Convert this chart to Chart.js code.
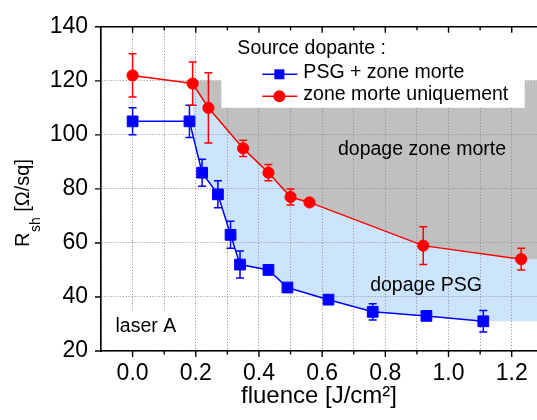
<!DOCTYPE html>
<html>
<head>
<meta charset="utf-8">
<script src="https://cdn.jsdelivr.net/npm/chart.js@4.4.1/dist/chart.umd.min.js"></script>
<style>
  html, body { margin: 0; padding: 0; background: #fff; }
  #wrap { width: 537px; height: 420px; }
</style>
</head>
<body>
<div id="wrap"><canvas id="chart" width="537" height="420"></canvas></div>
<script>
// Sheet resistance vs laser fluence

// PSG + zone morte (blue squares)
const psgFluence = [0.00, 0.18, 0.22, 0.27, 0.31, 0.34, 0.43, 0.49, 0.62, 0.76, 0.93, 1.11];
const psgRsh     = [105, 105, 86, 78, 63, 52, 50, 43.5, 39, 34.5, 33, 31];
const psgErr     = [5, 6, 5, 5, 5, 5, 1.5, 1, 1, 3, 1, 4];

// zone morte uniquement (red circles)
const zmFluence = [0.00, 0.19, 0.24, 0.35, 0.43, 0.50, 0.56, 0.92, 1.23];
const zmRsh     = [122, 119, 110, 95, 86, 77, 75, 59, 54];
const zmErr     = [8, 8, 13, 3, 3, 3, 1, 7, 4];

// shaded regions: grey above the red curve up to 120, blue between the curves
const deadZoneTop = 120;
const fillStartX = 0.2;

const xMin = -0.1, xMax = 1.28;
const yMin = 20, yMax = 140;

const FONT = "'Liberation Sans', Arial, sans-serif";

const pts = (xs, ys) => xs.map((x, i) => ({ x: x, y: ys[i] }));
// boundaries start at the second measurement and run flat to the right edge
const zmEdge = pts(zmFluence, zmRsh).slice(1).concat([{ x: xMax, y: zmRsh[zmRsh.length - 1] }]);
const psgEdge = pts(psgFluence, psgRsh).slice(1).concat([{ x: xMax, y: psgRsh[psgRsh.length - 1] }]);

function drawErrors(chart, dsIndex, errors, color) {
    const meta = chart.getDatasetMeta(dsIndex);
    const ys = chart.scales.y;
    const ctx = chart.ctx;
    const data = chart.data.datasets[dsIndex].data;
    ctx.save();
    ctx.strokeStyle = color;
    ctx.lineWidth = 1.5;
    meta.data.forEach((pt, i) => {
        const top = ys.getPixelForValue(data[i].y + errors[i]);
        const bot = ys.getPixelForValue(data[i].y - errors[i]);
        ctx.beginPath();
        ctx.moveTo(pt.x, top); ctx.lineTo(pt.x, bot);
        ctx.moveTo(pt.x - 4, top); ctx.lineTo(pt.x + 4, top);
        ctx.moveTo(pt.x - 4, bot); ctx.lineTo(pt.x + 4, bot);
        ctx.stroke();
    });
    ctx.restore();
}

const decorations = {
    id: 'decorations',
    beforeDatasetsDraw(chart) {
        drawErrors(chart, 0, psgErr, '#0000ff');
        drawErrors(chart, 1, zmErr, '#ff0000');
    },
    afterDatasetsDraw(chart) {
        const { ctx, chartArea, scales: { x, y } } = chart;
        ctx.save();

        // legend box
        const bx0 = x.getPixelForValue(0.281), bx1 = x.getPixelForValue(1.241);
        const by1 = y.getPixelForValue(110);
        ctx.fillStyle = '#fff';
        ctx.fillRect(bx0, chartArea.top + 1, bx1 - bx0, by1 - chartArea.top - 1);

        ctx.font = '19.5px ' + FONT;
        ctx.fillStyle = '#000';
        ctx.textBaseline = 'alphabetic';
        ctx.textAlign = 'left';
        ctx.fillText('Source dopante :', bx0 + 16, chartArea.top + 27.5);

        const rows = [
            { label: 'PSG + zone morte', color: '#0000ff', style: 'rect', dy: 47.5 },
            { label: 'zone morte uniquement', color: '#ff0000', style: 'circle', dy: 69.5 }
        ];
        rows.forEach(r => {
            const ry = chartArea.top + r.dy;
            ctx.strokeStyle = r.color;
            ctx.lineWidth = 1.5;
            ctx.beginPath();
            ctx.moveTo(bx0 + 41, ry); ctx.lineTo(bx0 + 76, ry);
            ctx.stroke();
            ctx.fillStyle = r.color;
            if (r.style === 'rect') {
                ctx.fillRect(bx0 + 58 - 5, ry - 5, 10, 10);
            } else {
                ctx.beginPath();
                ctx.arc(bx0 + 58, ry, 6, 0, Math.PI * 2);
                ctx.fill();
            }
            ctx.fillStyle = '#000';
            ctx.fillText(r.label, bx0 + 82, ry + 3.5);
        });

        // region labels
        ctx.font = '19.5px ' + FONT;
        ctx.fillText('dopage zone morte', x.getPixelForValue(0.65), y.getPixelForValue(92.6));
        ctx.fillText('dopage PSG', x.getPixelForValue(0.752), y.getPixelForValue(42.2));

        // laser A with white backing
        const lx1 = x.getPixelForValue(0.167), ly0 = y.getPixelForValue(35.2);
        ctx.fillStyle = '#fff';
        ctx.fillRect(chartArea.left + 1, ly0, lx1 - chartArea.left - 1, chartArea.bottom - ly0 - 1);
        ctx.fillStyle = '#000';
        ctx.fillText('laser A', x.getPixelForValue(-0.054), y.getPixelForValue(27.2));
        ctx.restore();
    },
    afterDraw(chart) {
        const { ctx, chartArea, scales: { x, y } } = chart;
        ctx.save();
        ctx.strokeStyle = '#000';
        ctx.lineWidth = 1.6;
        // top frame line
        ctx.beginPath();
        ctx.moveTo(chartArea.left - 0.8, chartArea.top);
        ctx.lineTo(chartArea.right, chartArea.top);
        ctx.stroke();

        ctx.lineWidth = 1.4;
        ctx.beginPath();
        x.ticks.forEach(t => {
            if (t.value <= xMin + 1e-6) return;
            const px = x.getPixelForValue(t.value);
            const len = Math.round(t.value * 10) % 2 === 0 ? 6 : 3.5;
            ctx.moveTo(px, chartArea.bottom); ctx.lineTo(px, chartArea.bottom + len);
            ctx.moveTo(px, chartArea.top); ctx.lineTo(px, chartArea.top + len);
        });
        y.ticks.forEach(t => {
            const py = y.getPixelForValue(t.value);
            const len = t.value % 20 === 0 ? 6 : 3.5;
            ctx.moveTo(chartArea.left, py); ctx.lineTo(chartArea.left - len, py);
        });
        ctx.stroke();

        // y axis title with subscript
        ctx.translate(29, 247);
        ctx.rotate(-Math.PI / 2);
        ctx.fillStyle = '#000';
        ctx.textAlign = 'left';
        ctx.textBaseline = 'alphabetic';
        ctx.font = '20px ' + FONT;
        ctx.fillText('R', 0, 0);
        let u = ctx.measureText('R').width;
        ctx.font = '14px ' + FONT;
        ctx.fillText('sh', u + 0.5, 11);
        u += ctx.measureText('sh').width + 0.5;
        ctx.font = '20px ' + FONT;
        ctx.fillText(' [\u03A9/sq]', u, 0);
        ctx.restore();
    }
};

new Chart(document.getElementById('chart'), {
    type: 'line',
    data: {
        datasets: [
            {
                label: 'PSG + zone morte',
                data: pts(psgFluence, psgRsh),
                borderColor: '#0000ff',
                backgroundColor: '#0000ff',
                borderWidth: 1.5,
                pointStyle: 'rect',
                pointRadius: 7.6,
                pointBorderWidth: 1,
                fill: false
            },
            {
                label: 'zone morte uniquement',
                data: pts(zmFluence, zmRsh),
                borderColor: '#ff0000',
                backgroundColor: '#ff0000',
                borderWidth: 1.5,
                pointStyle: 'circle',
                pointRadius: 5.6,
                pointBorderWidth: 1,
                fill: false
            },
            {
                label: 'dopage zone morte',
                data: [{ x: fillStartX, y: deadZoneTop }, { x: xMax, y: deadZoneTop }],
                borderColor: 'transparent',
                backgroundColor: '#c0c0c0',
                pointRadius: 0,
                fill: '+1'
            },
            {
                label: 'zm edge',
                data: zmEdge,
                borderColor: 'transparent',
                backgroundColor: '#cce5fc',
                pointRadius: 0,
                fill: '+1'
            },
            {
                label: 'psg edge',
                data: psgEdge,
                borderColor: 'transparent',
                pointRadius: 0,
                fill: false
            }
        ]
    },
    options: {
        responsive: false,
        animation: false,
        events: [],
        layout: { autoPadding: false, padding: { top: 25, right: 0, left: 0, bottom: 0 } },
        plugins: {
            legend: { display: false },
            tooltip: { enabled: false },
            filler: { propagate: false, drawTime: 'beforeDraw' }
        },
        scales: {
            x: {
                type: 'linear',
                min: xMin,
                max: xMax,
                afterFit(s) { s.height = 69; },
                ticks: {
                    stepSize: 0.1,
                    includeBounds: false,
                    autoSkip: false,
                    maxRotation: 0,
                    padding: 9,
                    color: '#000',
                    font: { family: FONT, size: 23 },
                    callback: v => (Math.round(v * 10) % 2 === 0 ? v.toFixed(1) : '')
                },
                grid: { color: '#8c8c8c', lineWidth: 1, drawTicks: false },
                border: { display: true, color: '#000', width: 1.6, dash: [1, 2] },
                title: {
                    display: true,
                    text: 'fluence [J/cm\u00B2]',
                    color: '#000',
                    font: { family: FONT, size: 24 },
                    padding: { top: 0, bottom: 9 }
                }
            },
            y: {
                min: yMin,
                max: yMax,
                afterFit(s) { s.width = 101; },
                ticks: {
                    stepSize: 10,
                    padding: 13,
                    color: '#000',
                    font: { family: FONT, size: 23 },
                    callback: v => (v % 20 === 0 ? v : '')
                },
                grid: { color: '#8c8c8c', lineWidth: 1, drawTicks: false },
                border: { display: true, color: '#000', width: 1.6, dash: [1, 2] }
            }
        }
    },
    plugins: [decorations]
});
</script>
</body>
</html>
